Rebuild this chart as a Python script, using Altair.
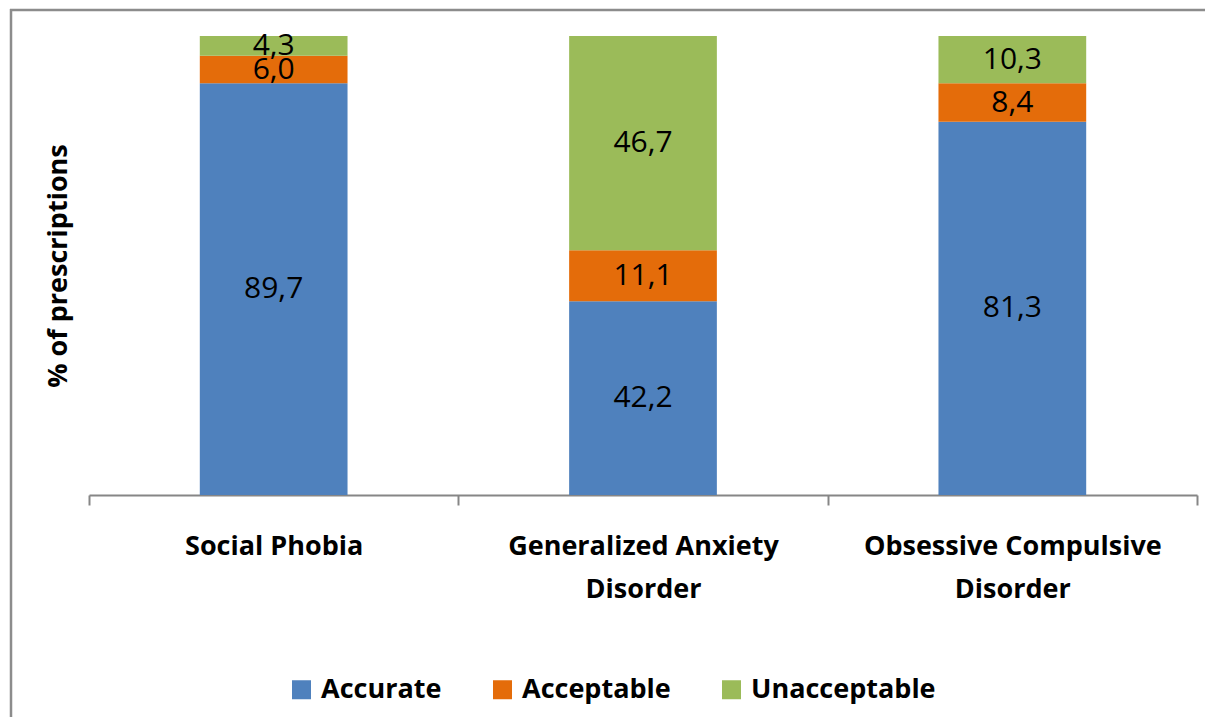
import altair as alt
import pandas as pd
import json

categories = ["Social Phobia", "Generalized Anxiety Disorder", "Obsessive Compulsive Disorder"]
label_lines = [["Social Phobia"], ["Generalized Anxiety", "Disorder"], ["Obsessive Compulsive", "Disorder"]]
series = ["Accurate", "Acceptable", "Unacceptable"]
colors = ["#4F81BD", "#E46C0A", "#9BBB59"]
accurate = [89.7, 42.2, 81.3]
acceptable = [6.0, 11.1, 8.4]
unacceptable = [4.3, 46.7, 10.3]

rows = []
for i, c in enumerate(categories):
    for r, (s, vals) in enumerate(zip(series, [accurate, acceptable, unacceptable])):
        rows.append({"category": c, "series": s, "rank": r, "value": vals[i]})
df = pd.DataFrame(rows)

# label expression for multi-line axis labels
expr = "datum.label"
for c, lines in zip(categories, label_lines):
    expr = f"datum.label == {json.dumps(c)} ? {json.dumps(lines)} : ({expr})"

W, H = 1108, 459
FONT = "Open Sans"

x_enc = alt.X(
    "category:N",
    sort=categories,
    scale=alt.Scale(type="band", paddingInner=0, paddingOuter=0),
    axis=alt.Axis(
        title=None,
        labelAngle=0,
        labelExpr=expr,
        labelFont=FONT,
        labelFontSize=27,
        labelFontWeight="bold",
        labelColor="black",
        labelPadding=28,
        labelLineHeight=43,
        labelBaseline="top",
        labelLimit=1000,
        domainColor="#868686",
        domainWidth=2,
        tickColor="#868686",
        tickWidth=2,
        tickSize=10,
        tickBand="extent",
        grid=False,
    ),
)

y_axis = alt.Axis(
    title="% of prescriptions",
    titleFont=FONT,
    titleFontSize=27,
    titleFontWeight="bold",
    titleColor="black",
    titleAngle=-90,
    titleX=-31,
    titleY=H / 2,
    titleAlign="center",
    titleBaseline="middle",
    labels=False,
    ticks=False,
    domain=False,
    grid=False,
)

base = alt.Chart(df).transform_stack(
    stack="value", groupby=["category"], as_=["v0", "v1"], sort=[alt.SortField("rank", order="ascending")]
)

bars = base.mark_bar(width=alt.RelativeBandSize(0.4)).encode(
    x=x_enc,
    y=alt.Y("v0:Q", scale=alt.Scale(domain=[0, 100], nice=False, zero=True), axis=y_axis),
    y2="v1:Q",
    color=alt.Color(
        "series:N",
        sort=series,
        scale=alt.Scale(domain=series, range=colors),
        legend=alt.Legend(
            title=None,
            orient="none",
            legendX=199,
            legendY=640,
            direction="horizontal",
            symbolType="square",
            symbolSize=361,
            symbolStrokeWidth=0,
            symbolOpacity=1,
            labelFont=FONT,
            labelFontSize=27,
            labelFontWeight="bold",
            labelColor="black",
            labelOffset=6,
            columnPadding=47,
            labelLimit=1000,
        ),
    ),
)

texts = base.transform_calculate(
    mid="(datum.v0 + datum.v1) / 2",
    txt="replace(format(datum.value, '.1f'), '.', ',')",
).mark_text(font=FONT, fontSize=30, color="black", baseline="middle", align="center").encode(
    x=x_enc,
    y=alt.Y("mid:Q", scale=alt.Scale(domain=[0, 100], nice=False, zero=True), axis=y_axis),
    text="txt:N",
)

frame_df = pd.DataFrame({"a": [0]})
border_top = alt.Chart(frame_df).mark_rule(color="#8C8C8C", strokeWidth=2.5).encode(
    x=alt.value(-79), x2=alt.value(W + 8), y=alt.value(-26)
)
border_left = alt.Chart(frame_df).mark_rule(color="#8C8C8C", strokeWidth=2.5).encode(
    x=alt.value(-78), y=alt.value(-27), y2=alt.value(H + 222)
)

chart = alt.layer(border_top, border_left, bars, texts).properties(
    width=W,
    height=H,
    autosize=alt.AutoSizeParams(type="none"),
    padding={"left": 81, "top": 28, "right": 8, "bottom": 222},
).configure(background="white").configure_view(stroke=None)

chart.save("out.html", embed_options={"renderer": "svg", "actions": False})
